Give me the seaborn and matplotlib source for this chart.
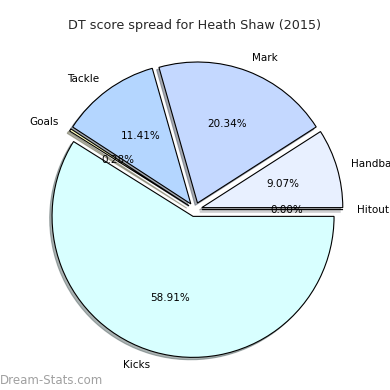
import matplotlib
matplotlib.use("Agg")
import matplotlib.pyplot as plt
import seaborn as sns

sns.set_theme(style="white")
plt.rcParams['font.family'] = ['DejaVu Sans']

categories = ["Hitout", "Handball", "Mark", "Tackle", "Goals", "Kicks"]
values = [0.00, 9.07, 20.34, 11.41, 0.28, 58.91]
colors = ["#f0f0ff", "#e8f0ff", "#c4d8ff", "#b4d6ff", "#ffffc0", "#d8ffff"]
title = "DT score spread for Heath Shaw (2015)"

total = sum(values)

fig = plt.figure(figsize=(3.9, 3.9), dpi=100)
ax = fig.add_axes([0, 0, 1, 1])
R = 141.0
cx, cy = 195.0, 209.6
wedges, texts, autotexts = ax.pie(
    values, labels=categories, colors=colors,
    autopct=lambda p: "%.2f%%" % (p * total / 100.0),
    explode=[0.05] * len(values),
    shadow={"ox": -0.012, "oy": -0.012, "shade": 0.6},
    startangle=0,
    wedgeprops=dict(edgecolor="black", linewidth=0.8),
    textprops=dict(fontsize=7.5, color="black"),
)
ax.set_xlim(-cx / R, (390 - cx) / R)
ax.set_ylim(-(390 - cy) / R, cy / R)
ax.set_aspect("auto")
ax.axis("off")
fig.text(0.5, 1 - 25 / 390, title, ha="center", va="center", fontsize=9.2)
fig.text(0.0, 1 - 380 / 390, "Dream-Stats.com", ha="left", va="center",
         fontsize=8.5, color="#a0a0a0", fontfamily="DejaVu Sans")
fig.savefig("out.png", dpi=100)
